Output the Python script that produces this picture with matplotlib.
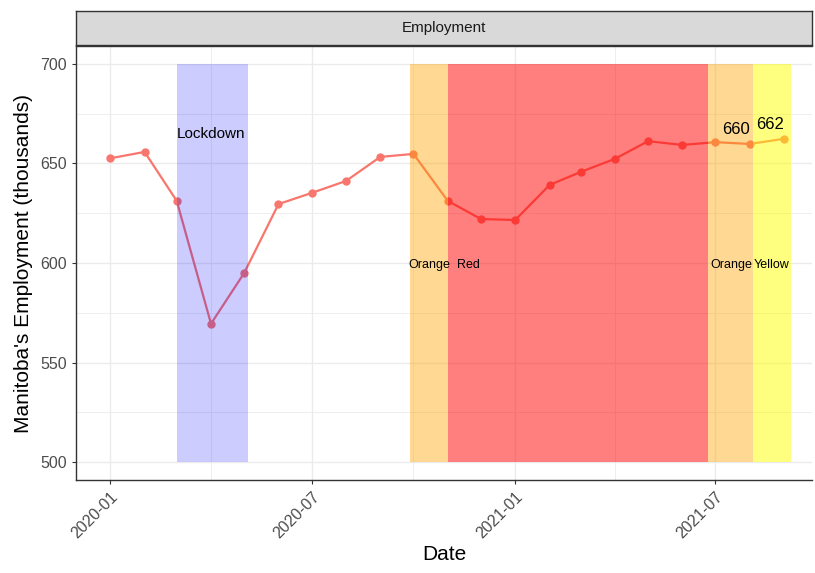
import matplotlib.pyplot as plt
import matplotlib.dates as mdates
from datetime import datetime

plt.rcParams['font.family'] = ['Liberation Sans', 'DejaVu Sans']

# Monthly Manitoba employment (thousands), Jan 2020 - Sep 2021
months = ['2020-01', '2020-02', '2020-03', '2020-04', '2020-05', '2020-06',
          '2020-07', '2020-08', '2020-09', '2020-10', '2020-11', '2020-12',
          '2021-01', '2021-02', '2021-03', '2021-04', '2021-05', '2021-06',
          '2021-07', '2021-08', '2021-09']
employment = [652.6, 655.8, 631.2, 569.5, 595.0, 629.6, 635.2, 641.2, 653.3,
              654.8, 631.2, 622.1, 621.6, 639.2, 645.7, 652.3, 661.2, 659.3,
              660.7, 659.8, 662.4]
labelled = ['2021-08', '2021-09']

# Restriction periods
band_names = ['Lockdown', 'Orange', 'Red', 'Orange', 'Yellow']
band_start = ['2020-03-01', '2020-09-28', '2020-11-01', '2021-06-24', '2021-08-04']
band_end = ['2020-05-04', '2020-11-01', '2021-06-24', '2021-08-04', '2021-09-07']
band_colors = ['#0000FF', '#FFA500', '#FF0000', '#FFA500', '#FFFF00']
band_alpha = [0.2, 0.42, 0.5, 0.42, 0.5]
label_dates = ['2020-04-01', '2020-10-15', '2020-11-20', '2021-07-15', '2021-08-21']
label_values = [665, 599, 599, 599, 599]

dates = [datetime.strptime(m, '%Y-%m') for m in months]

fig = plt.figure(figsize=(8.15, 5.73), dpi=100)
ax = fig.add_axes([0.0933, 0.1623, 0.9027, 0.7574])

ax.plot(dates, employment, color='#F8766D', lw=1.6, marker='o', ms=5, zorder=2)

for name, s, e, c, a in zip(band_names, band_start, band_end, band_colors, band_alpha):
    d0 = datetime.strptime(s, '%Y-%m-%d')
    d1 = datetime.strptime(e, '%Y-%m-%d')
    ax.fill_between([d0, d1], 500, 700, color=c, alpha=a, lw=0, zorder=3)

for name, d, v in zip(band_names, label_dates, label_values):
    size = 11 if name == 'Lockdown' else 9
    ax.text(datetime.strptime(d, '%Y-%m-%d'), v, name, ha='center', va='center',
            fontsize=size, color='black', zorder=4)

for m in labelled:
    i = months.index(m)
    ax.annotate(f'{employment[i]:.0f}', (dates[i], employment[i]), xytext=(0, 5),
                textcoords='offset points', ha='right', va='bottom', fontsize=12, zorder=5)

# Format plot (theme_bw look)
ax.set_xlim(datetime(2019, 12, 1), datetime(2021, 9, 26))
ax.set_ylim(491, 709)
ax.set_yticks([500, 550, 600, 650, 700])
ax.set_yticks([525, 575, 625, 675], minor=True)
ax.set_xticks([datetime(2020, 1, 1), datetime(2020, 7, 1), datetime(2021, 1, 1), datetime(2021, 7, 1)])
ax.set_xticks([datetime(2020, 4, 1), datetime(2020, 10, 1), datetime(2021, 4, 1)], minor=True)
ax.xaxis.set_major_formatter(mdates.DateFormatter('%Y-%m'))
ax.grid(which='major', color='#EBEBEB', lw=1.0, zorder=0)
ax.grid(which='minor', color='#EBEBEB', lw=0.6, zorder=0)
ax.set_axisbelow(True)
ax.tick_params(which='major', length=3, color='#333333', labelsize=11.5, labelcolor='#4D4D4D')
ax.tick_params(which='minor', length=0)
plt.setp(ax.get_xticklabels(), rotation=45, ha='right', rotation_mode='anchor')
for sp in ax.spines.values():
    sp.set_color('#333333')
    sp.set_linewidth(1.0)
ax.spines['right'].set_visible(False)
ax.set_xlabel('Date', fontsize=15, labelpad=3)
ax.set_ylabel("Manitoba's Employment (thousands)", fontsize=15, labelpad=5)

# Facet strip
strip = fig.add_axes([0.0933, 0.9215, 0.9027, 0.0593])
strip.set_facecolor('#D9D9D9')
strip.set_xticks([])
strip.set_yticks([])
for sp in strip.spines.values():
    sp.set_color('#333333')
    sp.set_linewidth(1.0)
strip.text(0.5, 0.5, 'Employment', ha='center', va='center', fontsize=11, color='#1A1A1A',
           transform=strip.transAxes)

fig.savefig('out.png', dpi=100)
